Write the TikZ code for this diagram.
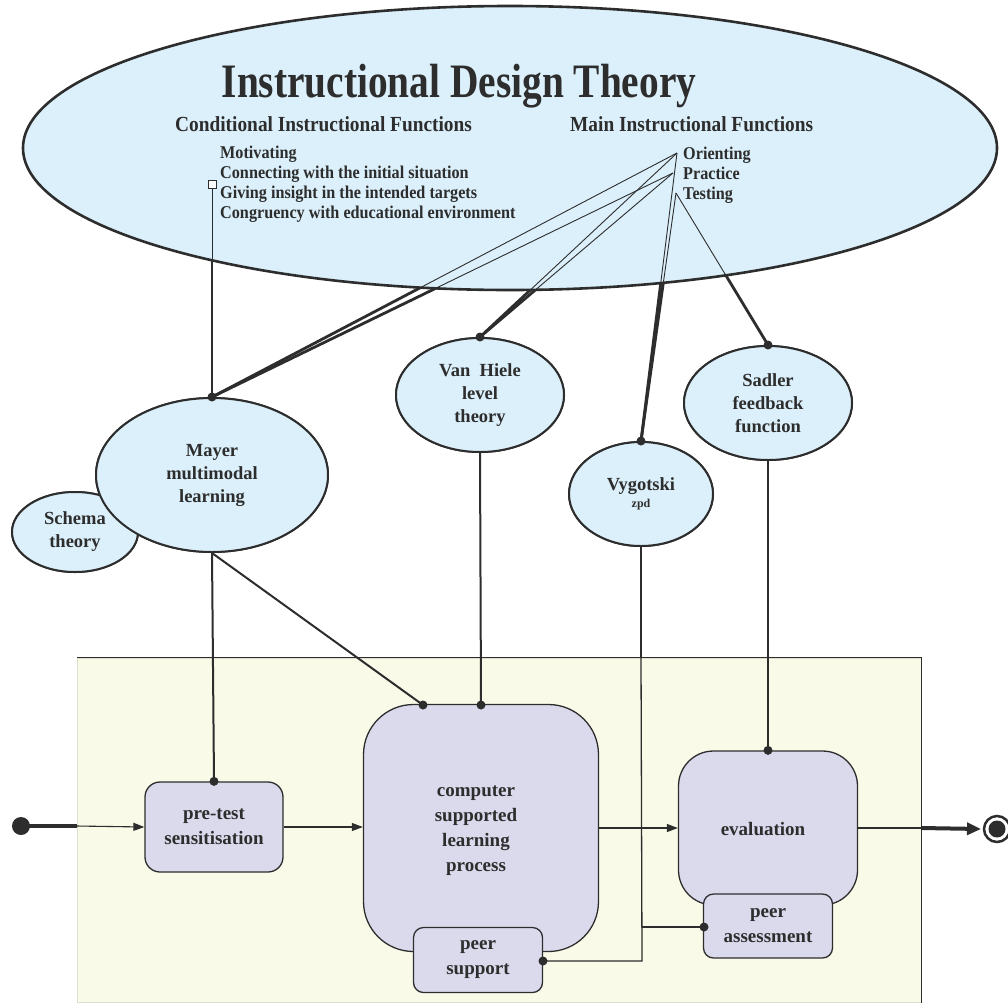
\documentclass[tikz,border=0pt]{standalone}
\usepackage{fontspec}
\setmainfont{Liberation Serif}
\newfontfamily\titlefont{Liberation Serif}[FakeStretch=0.82]
\newfontfamily\headfont{Liberation Serif}[FakeStretch=0.9]
\usetikzlibrary{shapes.geometric,arrows.meta}

\definecolor{ellfill}{RGB}{219,240,251}
\definecolor{boxfill}{RGB}{219,218,237}
\definecolor{panelfill}{RGB}{250,250,233}
\definecolor{paneledge}{RGB}{222,222,205}
\definecolor{ink}{RGB}{45,45,45}

\tikzset{
  theory/.style={ellipse, draw=ink, line width=2pt, fill=ellfill, inner sep=0pt,
    align=center, text=ink, font=\bfseries\fontsize{18.5}{23}\selectfont},
  stepbox/.style={rectangle, draw=ink, line width=1.3pt, fill=boxfill, inner sep=0pt,
    align=center, text=ink, font=\bfseries\fontsize{19}{25}\selectfont},
  linkthick/.style={draw=ink, line width=2.8pt},
  linkthin/.style={draw=ink, line width=0.9pt},
  tie/.style={draw=ink, line width=2pt},
  flow/.style={draw=ink, line width=1.1pt, -{Triangle[length=11pt,width=8pt]}},
  item/.style={anchor=base west, inner sep=0pt, text=ink,
    font=\headfont\bfseries\fontsize{18}{20}\selectfont},
  heading/.style={anchor=base west, inner sep=0pt, text=ink,
    font=\headfont\bfseries\fontsize{21.5}{24}\selectfont},
}

\begin{document}
\begin{tikzpicture}[x=1pt,y=-1pt]
\useasboundingbox (0,0) rectangle (1008,1004);

% activity panel
\node[rectangle, draw=paneledge, line width=1pt, fill=panelfill, minimum width=844pt,
  minimum height=344pt, inner sep=0pt] (panel) at (499,830) {};
\draw[ink, line width=1.5pt] (panel.south east) -- (panel.north east) -- (panel.north west);

% anchor points of the main functions and the conditional marker
\coordinate (orP) at (677,153);
\coordinate (prP) at (673,173);
\coordinate (teP) at (676,193);
\coordinate (sqB) at (212,188);

% theory ellipses (placed first so the connectors can reach them)
\path (480,395) node[theory, minimum width=168pt, minimum height=114pt] (vanhiele) {Van~ Hiele\\level\\theory};
\path (641,494) node[theory, minimum width=144pt, minimum height=104pt] (vyg) {Vygotski\\[-6pt]{\fontsize{12}{14}\selectfont zpd}};
\path (768,403) node[theory, minimum width=168pt, minimum height=114pt] (sadler) {Sadler\\feedback\\function};
\path (75,532) node[theory, minimum width=126pt, minimum height=80pt] (schema) {Schema\\theory};
\path (212,475) node[theory, minimum width=232pt, minimum height=154pt] (mayer) {Mayer\\multimodal\\learning};

% connectors from the theory to the supporting theories (heavy part)
\foreach \a/\b in {sqB/mayer, orP/mayer, prP/mayer, orP/vanhiele, prP/vanhiele,
                   orP/vyg, teP/vyg, teP/sadler}
  \draw[linkthick] (\a) -- (\b.north);

% main ellipse
\node[ellipse, draw=ink, line width=2.6pt, fill=ellfill, minimum width=974pt,
  minimum height=284pt, inner sep=0pt] (idt) at (510,148) {};

% connectors inside the main ellipse (fine part)
\foreach \a/\b in {sqB/mayer, orP/mayer, prP/mayer, orP/vanhiele, prP/vanhiele,
                   orP/vyg, teP/vyg, teP/sadler}
  \draw[linkthin] (\a) -- (\b.north);

\node[draw=ink, line width=0.9pt, fill=white, minimum size=8pt, inner sep=0pt] (sq) at (212,184) {};

% titles and function lists
\node[anchor=base, inner sep=0pt, text=ink, font=\titlefont\bfseries\fontsize{48}{52}\selectfont]
  (title) at (459,97) {Instructional Design Theory};
\node[heading] (cond) at (175,131) {Conditional Instructional Functions};
\node[heading] (mainf) at (570,131) {Main Instructional Functions};
\node[item] (c1) at (220,158) {Motivating};
\node[item] (c2) at (220,178) {Connecting with the initial situation};
\node[item] (c3) at (220,198) {Giving insight in the intended targets};
\node[item] (c4) at (220,218) {Congruency with educational environment};
\node[item] (m1) at (683,159) {Orienting};
\node[item] (m2) at (683,179) {Practice};
\node[item] (m3) at (683,199) {Testing};

% redraw the supporting theories on top of the connectors
\node[theory, minimum width=168pt, minimum height=114pt] at (vanhiele) {Van~ Hiele\\level\\theory};
\node[theory, minimum width=144pt, minimum height=104pt] at (vyg) {Vygotski\\[-6pt]{\fontsize{12}{14}\selectfont zpd}};
\node[theory, minimum width=168pt, minimum height=114pt] at (sadler) {Sadler\\feedback\\function};
\node[theory, minimum width=126pt, minimum height=80pt] at (schema) {Schema\\theory};
\node[theory, minimum width=232pt, minimum height=154pt] at (mayer) {Mayer\\multimodal\\learning};
\foreach \n in {mayer, vanhiele, vyg, sadler}
  \fill[ink] (\n.north) circle[radius=4.5pt];

% activity states
\node[stepbox, rounded corners=15pt, minimum width=138pt, minimum height=90pt] (pre) at (214,827) {pre-test\\sensitisation};
\node[stepbox, rounded corners=50pt, minimum width=235pt, minimum height=247pt] (csl) at (481,828) {};
\node[text=ink, align=center, font=\bfseries\fontsize{19}{25}\selectfont] (csltext) at (476,831) {computer\\supported\\learning\\process};
\node[stepbox, rounded corners=10pt, minimum width=129pt, minimum height=65pt] (psup) at (478,960) {peer\\support};
\node[stepbox, rounded corners=35pt, minimum width=179pt, minimum height=154pt] (eval) at (768,828) {};
\node[text=ink, font=\bfseries\fontsize{19}{25}\selectfont] (evaltext) at (763,829) {evaluation};
\node[stepbox, rounded corners=10pt, minimum width=129pt, minimum height=64pt] (pass) at (768,926) {peer\\assessment};

% links from the theories into the activities
\coordinate (cslA) at (423,705);
\coordinate (cslB) at (481,705);
\coordinate (psupR) at (543,961);
\coordinate (passL) at (704,927);
\coordinate (vygBend) at (642,961);
\coordinate (vygSplit) at (642,927);
\draw[tie] (mayer.south) -- (pre.north);
\draw[tie] (mayer.south) -- (cslA);
\draw[tie] (vanhiele.south) -- (cslB);
\draw[tie] (sadler.south) -- (eval.north);
\draw[ink, line width=2pt] (vyg.south) -- (vyg.south |- panel.north);
\draw[ink, line width=1.3pt] (vyg.south |- panel.north) -- (vygBend) -- (psupR);
\draw[ink, line width=1.3pt] (vygSplit) -- (passL);
\foreach \p in {pre.north, cslA, cslB, eval.north, psupR, passL}
  \fill[ink] (\p) circle[radius=4.5pt];

% control flow
\fill[ink] (21,826) coordinate (init) circle[radius=9pt];
\draw[ink, line width=4pt] (init) -- (init -| panel.west);
\draw[flow] (init -| panel.west) -- (pre.west);
\draw[flow] (pre.east) -- (pre.east -| csl.west);
\draw[flow] (csl.east) -- (csl.east -| eval.west);
\draw[ink, line width=1.1pt] (eval.east) -- (eval.east -| panel.east);
\coordinate (final) at (997,829);
\draw[ink, line width=4pt, -{Triangle[length=14pt,width=12pt]}] (eval.east -| panel.east) -- ([xshift=-16pt]final);
\draw[ink, line width=2.5pt, fill=white] (final) circle[radius=13pt];
\fill[ink] (final) circle[radius=8.5pt];
\end{tikzpicture}
\end{document}
